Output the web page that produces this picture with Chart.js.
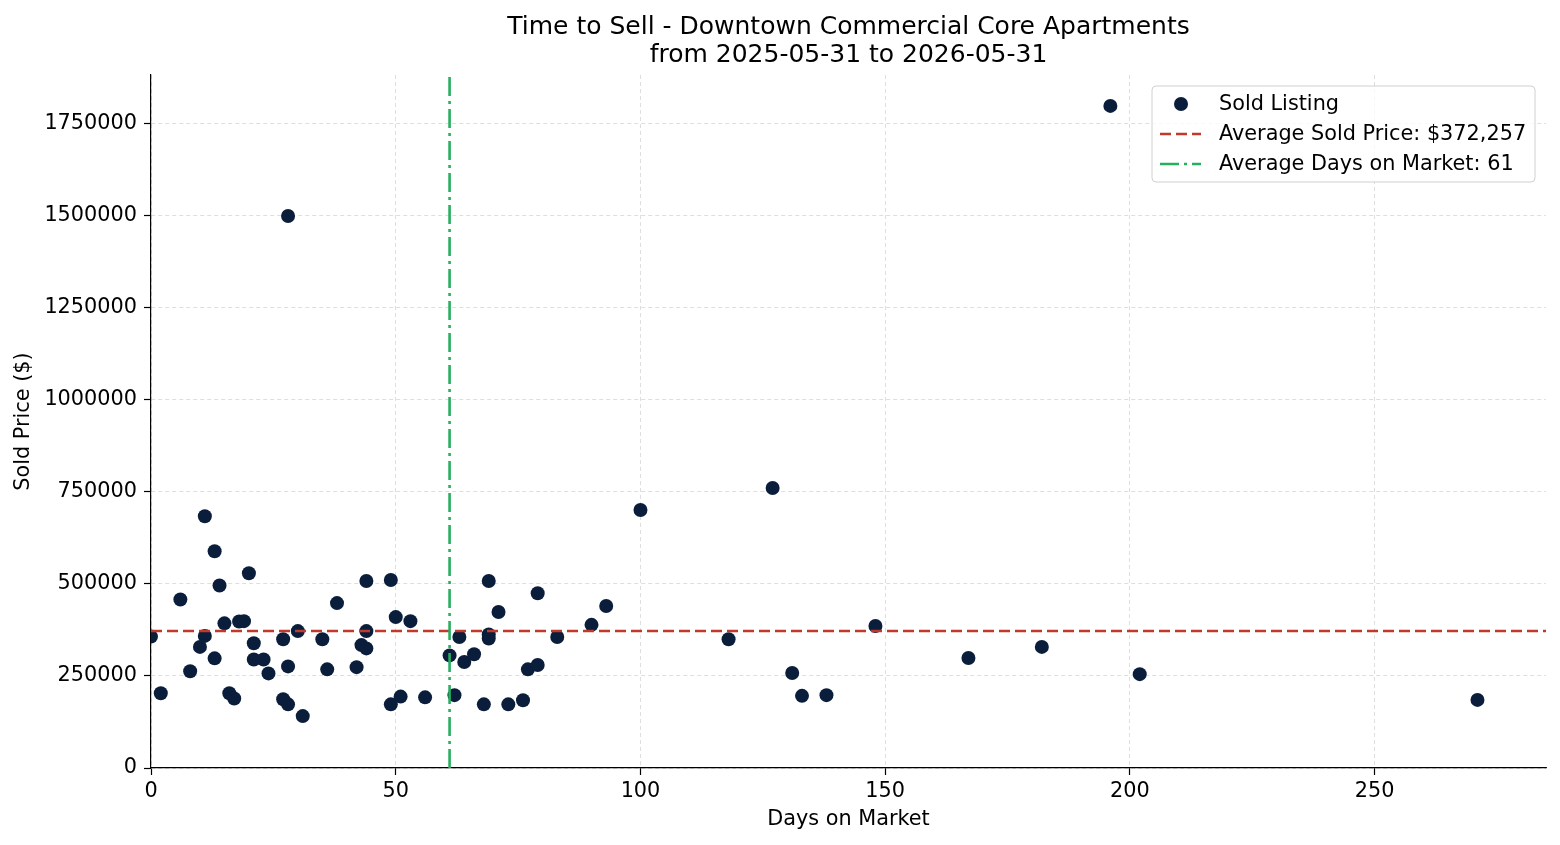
<!DOCTYPE html>
<html>
<head>
<meta charset="utf-8">
<script src="https://cdn.jsdelivr.net/npm/chart.js@4.4.1/dist/chart.umd.min.js"></script>
<style>
  html, body { margin: 0; padding: 0; background: #fff; }
  #wrap { width: 1560px; height: 845px; }
</style>
</head>
<body>
<div id="wrap"><canvas id="mycanvas" width="1560" height="845"></canvas></div>
<script>
// values
var days = [0, 2, 6, 8, 10, 11, 11, 13, 13, 14, 15, 16, 17, 18, 19, 20, 21, 21, 23, 24,
            27, 27, 28, 28, 28, 30, 31, 35, 36, 38, 42, 43, 44, 44, 44, 49, 49, 50, 51, 53,
            56, 61, 62, 63, 64, 66, 68, 69, 69, 69, 71, 73, 76, 77, 79, 79, 83, 90, 93, 100,
            118, 127, 131, 133, 138, 148, 167, 182, 196, 202, 271];
var prices = [357000, 203000, 458000, 263000, 329000, 684000, 359000, 589000, 298000, 496000,
              393000, 203000, 189000, 398000, 399000, 529000, 339000, 295000, 295000, 257000,
              350000, 187000, 276000, 173000, 1500000, 372000, 141000, 350000, 268000, 448000,
              274000, 334000, 508000, 372000, 325000, 511000, 173000, 410000, 194000, 399000,
              192000, 306000, 198000, 356000, 288000, 309000, 173000, 508000, 363000, 352000,
              424000, 173000, 184000, 268000, 475000, 280000, 356000, 389000, 440000, 701000,
              350000, 761000, 258000, 196000, 198000, 386000, 299000, 329000, 1799000, 255000,
              185000];
var avgPrice = 372257;
var avgDays = 61;
var xTicks = [0, 50, 100, 150, 200, 250];
var yTicks = [0, 250000, 500000, 750000, 1000000, 1250000, 1500000, 1750000];
var xMax = 285;
var yMax = 1883000;
var titleLines = ["Time to Sell - Downtown Commercial Core Apartments", "from 2025-05-31 to 2026-05-31"];

var points = [];
for (var i in days) {
    points.push({x: days[i], y: prices[i]});
}

Chart.defaults.font.family = "'DejaVu Sans', sans-serif";
Chart.defaults.color = "#000";

var gridOpts = {color: "#d6d6d6", lineWidth: 0.8, tickColor: "#000", tickLength: 7, tickWidth: 1.2};

// legend drawn inside the axes, like the original
var boxLegend = {
    id: "boxLegend",
    afterDraw: function(chart) {
        var ctx = chart.ctx;
        var a = chart.chartArea;
        var sets = chart.data.datasets;
        var x0 = a.right - 394, y0 = a.top + 11, w = 383, h = 96;
        ctx.save();
        ctx.beginPath();
        ctx.roundRect(x0, y0, w, h, 4);
        ctx.fillStyle = "rgba(255,255,255,0.8)";
        ctx.fill();
        ctx.strokeStyle = "#d0d0d0";
        ctx.lineWidth = 1;
        ctx.stroke();
        ctx.font = "20.8px 'DejaVu Sans'";
        ctx.textBaseline = "middle";
        for (var k = 0; k < sets.length; k++) {
            var ds = sets[k];
            var cy = y0 + 18 + k * 30;
            if (ds.type === "scatter") {
                ctx.beginPath();
                ctx.arc(x0 + 29, cy, 7, 0, Math.PI * 2);
                ctx.fillStyle = ds.backgroundColor;
                ctx.fill();
            } else {
                ctx.beginPath();
                ctx.setLineDash(ds.borderDash);
                ctx.strokeStyle = ds.borderColor;
                ctx.lineWidth = ds.borderWidth;
                ctx.moveTo(x0 + 8, cy);
                ctx.lineTo(x0 + 49, cy);
                ctx.stroke();
                ctx.setLineDash([]);
            }
            ctx.fillStyle = "#000";
            ctx.fillText(ds.label, x0 + 67, cy + 1);
        }
        ctx.restore();
    }
};

var ctx = document.getElementById("mycanvas");
var chart = new Chart(ctx, {
    type: "scatter",
    data: {
        datasets: [
            {
                type: "scatter",
                label: "Sold Listing",
                data: points,
                backgroundColor: "#0a1e3c",
                borderColor: "#0a1e3c",
                borderWidth: 0,
                pointRadius: 7,
                pointHoverRadius: 7,
                order: 3
            },
            {
                type: "line",
                label: "Average Sold Price: $" + avgPrice.toLocaleString("en-US"),
                data: [{x: 0, y: avgPrice}, {x: xMax, y: avgPrice}],
                borderColor: "#c0392b",
                borderWidth: 2.6,
                borderDash: [11, 5],
                pointRadius: 0,
                fill: false,
                order: 2
            },
            {
                type: "line",
                label: "Average Days on Market: " + avgDays,
                data: [{x: avgDays, y: 0}, {x: avgDays, y: yMax}],
                borderColor: "#27ae60",
                borderWidth: 2.6,
                borderDash: [19, 5, 3, 5],
                pointRadius: 0,
                fill: false,
                order: 1
            }
        ]
    },
    options: {
        responsive: false,
        animation: false,
        layout: {padding: {left: 0, right: 14, top: 1, bottom: 0}},
        plugins: {
            legend: {display: false},
            tooltip: {enabled: false},
            title: {
                display: true,
                fullSize: false,
                text: titleLines,
                color: "#000",
                font: {size: 25, weight: "normal", lineHeight: 1.12},
                padding: {top: 12, bottom: 6}
            }
        },
        scales: {
            x: {
                type: "linear",
                min: 0,
                max: xMax,
                afterFit: function(s) { s.height = 77; },
                afterBuildTicks: function(s) {
                    s.ticks = xTicks.map(function(v) { return {value: v}; });
                },
                ticks: {padding: 4, font: {size: 20.8}, maxRotation: 0},
                grid: Object.assign({}, gridOpts),
                border: {display: true, color: "#000", width: 1.2, dash: [4, 3]},
                title: {display: true, text: "Days on Market", font: {size: 20.8}, padding: {top: 0, bottom: 13}}
            },
            y: {
                type: "linear",
                min: 0,
                max: yMax,
                afterFit: function(s) { s.width = 151; },
                afterBuildTicks: function(s) {
                    s.ticks = yTicks.map(function(v) { return {value: v}; });
                },
                ticks: {
                    padding: 7,
                    font: {size: 20.8},
                    callback: function(v) { return String(v); }
                },
                grid: Object.assign({}, gridOpts),
                border: {display: true, color: "#000", width: 1.2, dash: [4, 3]},
                title: {display: true, text: "Sold Price ($)", font: {size: 20.8}, padding: {top: 11, bottom: 0}}
            }
        }
    },
    plugins: [boxLegend]
});
</script>
</body>
</html>
